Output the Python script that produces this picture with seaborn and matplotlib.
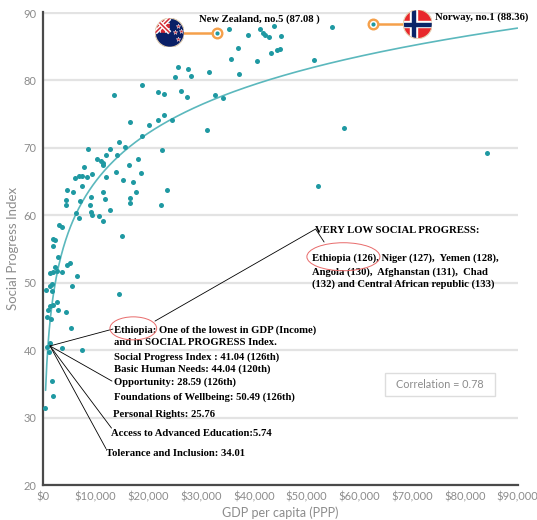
import matplotlib
matplotlib.use('Agg')
import matplotlib.pyplot as plt
import seaborn as sns
import numpy as np
import pandas as pd
from matplotlib.patches import Ellipse, Circle, Rectangle


# GDP per capita (PPP) and Social Progress Index
gdp = [35350, 38800, 41180, 41745, 42125, 42790, 43740, 45065, 37000, 35615,
       40645, 43170, 44440, 44970, 54840, 51420, 31555, 37135, 32695, 34117,
       25560, 25085, 27570, 27990, 26243, 27380, 31060, 57115, 52240, 84306,
       18842, 13415, 21765, 22865, 16546, 20018, 21878, 22865, 24516, 18785,
       8539, 14459, 15597, 12770, 11992, 14080, 10341, 11000, 11385, 11442,
       7723, 18083, 16281, 22485, 9298, 6129, 6793, 7438, 8387, 7457,
       4497, 5749, 4402, 4326, 6945, 9070, 11347, 11765, 11992, 13852,
       6262, 6869, 9013, 9146, 9241, 10721, 11480, 12751, 15237, 17078,
       17552, 18596, 16413, 16508, 23472, 22390, 3036, 3700, 1954, 2277,
       1954, 2789, 14990, 2277, 1954, 5123, 4497, 3700, 2713, 1328,
       6395, 1651, 1328, 531, 1651, 5503, 14421, 2600, 1841, 1328,
       1006, 2846, 4364, 759, 1518, 5313, 854, 3662, 7343,
       1176, 1803, 1841, 417]
spi = [87.7, 86.8, 87.7, 87.0, 86.7, 86.5, 88.1, 86.6, 84.8, 83.2,
       82.9, 84.1, 84.5, 84.7, 88.0, 83.0, 81.3, 80.9, 77.8, 77.4,
       82.0, 80.5, 81.7, 80.6, 78.5, 77.5, 72.7, 72.9, 64.3, 69.2,
       79.3, 77.9, 78.3, 78.0, 73.8, 73.4, 74.2, 74.9, 74.1, 71.8,
       69.9, 70.9, 70.2, 69.8, 68.9, 69.0, 68.3, 68.0, 67.8, 67.4,
       67.1, 68.4, 67.5, 69.7, 66.2, 65.5, 65.9, 65.8, 65.7, 64.4,
       63.8, 63.4, 62.3, 61.5, 62.2, 62.7, 63.4, 62.5, 65.7, 66.4,
       60.4, 59.6, 61.6, 60.5, 60.1, 59.9, 59.1, 60.8, 65.3, 65.0,
       63.4, 66.3, 61.8, 62.6, 63.7, 61.5, 58.6, 58.3, 56.5, 56.4,
       55.4, 53.9, 56.9, 52.3, 51.6, 53.0, 52.6, 51.6, 51.7, 51.5,
       51.0, 49.9, 49.5, 49.0, 48.8, 49.6, 48.4, 47.2, 46.7, 46.5,
       46.0, 45.9, 45.7, 44.9, 44.6, 43.3, 40.5, 40.3, 40.0,
       39.7, 35.4, 33.2, 31.4]

ethiopia = (1336, 41.04)
new_zealand = (32960, 87.08)
norway = (62560, 88.36)

eth_lines = ['Ethiopia: One of the lowest in GDP (Income)',
             'and in SOCIAL PROGRESS Index.',
             'Social Progress Index : 41.04 (126th)',
             'Basic Human Needs: 44.04 (120th)',
             'Opportunity: 28.59 (126th)',
             'Foundations of Wellbeing: 50.49 (126th)']
low_lines = ['Ethiopia (126), Niger (127),  Yemen (128),',
             'Angola (130),  Afghanstan (131),  Chad',
             '(132) and Central African republic (133)']

teal = '#1f99a2'
orange = '#f5a04a'
grey = '#8c8c8c'
serif = ['Liberation Serif', 'DejaVu Serif']

sns.set_theme(style='white')
plt.rcParams['font.family'] = ['Lato', 'DejaVu Sans']

fig, ax = plt.subplots(figsize=(5.37, 5.2), dpi=100)
fig.subplots_adjust(left=0.080, right=0.9637, bottom=0.067, top=0.9775)

all_gdp = np.array(gdp + [ethiopia[0], new_zealand[0], norway[0]])
all_spi = np.array(spi + [ethiopia[1], new_zealand[1], norway[1]])
df = pd.DataFrame({'gdp': all_gdp, 'spi': all_spi})

# log trend line
coef = np.polyfit(np.log(all_gdp), all_spi, 1)
xs = np.linspace(500, 90000, 400)
sns.lineplot(x=xs, y=np.polyval(coef, np.log(xs)), color='#5bb8bd', lw=1.2, ax=ax, zorder=2)

sns.scatterplot(data=df, x='gdp', y='spi', color=teal, s=13, linewidth=0, ax=ax, zorder=3)

ax.set_xlim(0, 90000)
ax.set_ylim(20, 90.2)
ax.set_yticks(range(20, 91, 10))
ax.set_xticks(range(0, 90001, 10000))
ax.set_xticklabels([f'${v:,}' for v in range(0, 90001, 10000)])
ax.yaxis.grid(True, color='#e3e3e3', lw=1.6)
ax.xaxis.grid(False)
ax.set_axisbelow(True)
for s in ['top', 'right']:
    ax.spines[s].set_visible(False)
for s in ['left', 'bottom']:
    ax.spines[s].set_color('#4a4a4a')
    ax.spines[s].set_linewidth(1.6)
ax.tick_params(axis='both', colors='#555555', labelcolor=grey, labelsize=8,
               length=3, width=1, pad=1.5)
ax.set_xlabel('GDP per capita (PPP)', color=grey, fontsize=9, labelpad=3)
ax.set_ylabel('Social Progress Index', color=grey, fontsize=9.5, labelpad=3)


def flag_axes(pt, offset_px, r_px=14.5):
    px, py = ax.transData.transform(pt)
    cx = px + offset_px
    lx, ly = ax.transData.inverted().transform((cx, py))
    ax.plot([pt[0], lx], [pt[1], ly], color=orange, lw=1.8, zorder=4, clip_on=False)
    ax.scatter(*pt, s=48, facecolor='white', edgecolor=orange, linewidth=1.7, zorder=5, clip_on=False)
    ax.scatter(*pt, s=9, color=teal, linewidth=0, zorder=6, clip_on=False)
    fx, fy = fig.transFigure.inverted().transform((cx, py))
    w = 2 * r_px / fig.bbox.width
    h = 2 * r_px / fig.bbox.height
    fa = fig.add_axes([fx - w / 2, fy - h / 2, w, h])
    fa.set_xlim(-1, 1)
    fa.set_ylim(-1, 1)
    fa.axis('off')
    clip = Circle((0, 0), 1, transform=fa.transData)
    return fa, clip


def add(fa, clip, artist):
    fa.add_artist(artist)
    artist.set_clip_path(clip)


# New Zealand flag
fa, clip = flag_axes(new_zealand, -47)
add(fa, clip, Rectangle((-1, -1), 2, 2, color='#0a1f66'))
for (x0, y0, x1, y1) in [(-1, 0, 0, 1), (-1, 1, 0, 0)]:
    for c, lw in [('white', 3.2), ('#d42a34', 1.1)]:
        ln, = fa.plot([x0, x1], [y0, y1], color=c, lw=lw, solid_capstyle='butt')
        ln.set_clip_path(clip)
add(fa, clip, Rectangle((-1, 0.36), 1, 0.28, color='white'))
add(fa, clip, Rectangle((-0.64, 0), 0.28, 1, color='white'))
add(fa, clip, Rectangle((-1, 0.43), 1, 0.14, color='#d42a34'))
add(fa, clip, Rectangle((-0.57, 0), 0.14, 1, color='#d42a34'))
add(fa, clip, Rectangle((0, -1), 1, 2, color='#0a1f66'))
add(fa, clip, Rectangle((-1, -1), 2, 1, color='#0a1f66'))
for sx, sy in [(0.55, 0.45), (0.35, 0.05), (0.78, 0.12), (0.55, -0.45)]:
    fa.plot(sx, sy, marker='*', ms=3.5, color='#d42a34', mec='white', mew=0.3)
fa.add_artist(Circle((0, 0), 1, fill=False, ec='#e6d3b5', lw=0.8))

# Norway flag
fa, clip = flag_axes(norway, 45)
add(fa, clip, Rectangle((-1, -1), 2, 2, color='#e8282b'))
add(fa, clip, Rectangle((-0.52, -1), 0.44, 2, color='white'))
add(fa, clip, Rectangle((-1, -0.22), 2, 0.44, color='white'))
add(fa, clip, Rectangle((-0.41, -1), 0.22, 2, color='#0a2468'))
add(fa, clip, Rectangle((-1, -0.11), 2, 0.22, color='#0a2468'))
fa.add_artist(Circle((0, 0), 1, fill=False, ec='#e6d3b5', lw=0.8))

txt = dict(family=serif, weight='bold', fontsize=7.7, color='black', va='center', ha='left')
ax.text(29600, 89.14, 'New Zealand, no.5 (87.08 )', **txt)
ax.text(74380, 89.44, 'Norway, no.1 (88.36)', **txt)

# Ethiopia callout
eth_y = [43.0, 41.11, 39.04, 37.21, 35.24, 33.10]
for line, y in zip(eth_lines, eth_y):
    ax.text(13530, y, line, **txt)
ax.text(13340, 30.53, 'Personal Rights: 25.76', **txt)
ax.text(12900, 27.67, 'Access to Advanced Education:5.74', **txt)
ax.text(11950, 24.70, 'Tolerance and Inclusion: 34.01', **txt)
for ex, ey in [(13280, 43.15), (13090, 35.43), (13000, 28.46), (11950, 25.42)]:
    ax.plot([ethiopia[0], ex], [ethiopia[1] - 0.4, ey], color='black', lw=0.6, zorder=4)
ax.add_patch(Ellipse((17134, 43.25), 8860, 3.41, fill=False, ec='#e86a6a', lw=0.7, zorder=4))

# very low social progress callout
ax.text(51610, 57.73, 'VERY LOW SOCIAL PROGRESS:', **txt)
for line, y in zip(low_lines, [53.64, 51.65, 49.82]):
    ax.text(50990, y, line, **txt)
ax.plot([21250, 51710, 53320], [44.33, 57.98, 56.05], color='black', lw=0.6, zorder=4)
ax.add_patch(Ellipse((56980, 53.87), 13850, 4.15, fill=False, ec='#e86a6a', lw=0.7, zorder=4))

# correlation box
ax.add_patch(Rectangle((64900, 33.2), 20740, 3.46, fc='white', ec='#dddddd', lw=1, zorder=4))
ax.text(75270, 34.93, 'Correlation = 0.78', ha='center', va='center', fontsize=7.8,
        color=grey, zorder=5)

plt.savefig('out.png', dpi=100)
